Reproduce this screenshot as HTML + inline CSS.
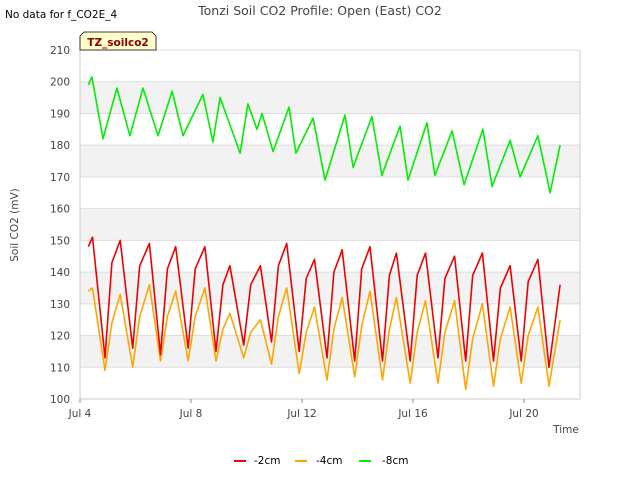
<!DOCTYPE html>
<html><head><meta charset="utf-8"><style>
body{margin:0;background:#fff;font-family:"DejaVu Sans","Liberation Sans",sans-serif;}
</style></head><body>
<svg width="640" height="480" xmlns="http://www.w3.org/2000/svg" font-family="DejaVu Sans, Liberation Sans, sans-serif">
<text x="5" y="18" font-size="10.5" fill="#000">No data for f_CO2E_4</text>
<text x="320" y="15" font-size="12.5" fill="#444" text-anchor="middle">Tonzi Soil CO2 Profile: Open (East) CO2</text>
<g id="plot"></g>
<g>
<path d="M80,50 L80,36 L84,32 L152,32 L156,36 L156,50 Z" fill="#ffffcc" stroke="#000" stroke-width="0.8"/>
<text x="118" y="46" font-size="10.5" font-weight="bold" fill="#8b0000" text-anchor="middle">TZ_soilco2</text>
</g>
<text x="18" y="225" font-size="10.5" fill="#444" text-anchor="middle" transform="rotate(-90 18 225)">Soil CO2 (mV)</text>
<text x="566" y="433" font-size="10.5" fill="#444" text-anchor="middle">Time</text>
<g>
<g><line x1="234" y1="461" x2="246" y2="461" stroke="#e00" stroke-width="2"/><text x="254" y="464" font-size="10.5" fill="#000">-2cm</text></g>
<g><line x1="295" y1="461" x2="307" y2="461" stroke="#ffa500" stroke-width="2"/><text x="316" y="464" font-size="10.5" fill="#000">-4cm</text></g>
<g><line x1="359" y1="461" x2="371" y2="461" stroke="#0e0" stroke-width="2"/><text x="382" y="464" font-size="10.5" fill="#000">-8cm</text></g>
</g>
</svg>
<script>
const yTicks=[100,110,120,130,140,150,160,170,180,190,200,210];
const xTickDays=[0,4,8,12,16];
const xTickLabels=["Jul 4","Jul 8","Jul 12","Jul 16","Jul 20"];
const rtTimes=[0.3,0.45,0.9,1.15,1.45,1.9,2.15,2.5,2.9,3.15,3.45,3.9,4.15,4.5,4.9,5.15,5.4,5.9,6.15,6.5,6.9,7.15,7.45,7.9,8.15,8.45,8.9,9.15,9.45,9.9,10.15,10.45,10.9,11.15,11.4,11.9,12.15,12.45,12.9,13.15,13.5,13.9,14.15,14.5,14.9,15.15,15.5,15.9,16.15,16.5,16.9,17.3];
const red2cm=[148,151,113,143,150,116,142,149,114,141,148,116,141,148,115,136,142,117,136,142,118,142,149,115,138,144,113,140,147,112,141,148,112,139,146,112,139,146,113,138,145,112,139,146,112,135,142,112,137,144,110,136];
const orange4cm=[134,135,109,124,133,110,126,136,112,126,134,112,126,135,112,122,127,113,121,125,111,126,135,108,121,129,106,122,132,107,123,134,106,122,132,105,121,131,105,121,131,103,119,130,104,119,129,105,120,129,104,125];
const gTimes=[0.3,0.43,0.83,1.33,1.8,2.27,2.81,3.32,3.71,4.43,4.79,5.05,5.77,6.05,6.38,6.56,6.96,7.53,7.78,8.4,8.83,9.55,9.84,10.52,10.88,11.53,11.82,12.5,12.79,13.41,13.84,14.52,14.85,15.5,15.86,16.5,16.94,17.3];
const green8cm=[199,201.5,182,198,183,198,183,197,183,196,181,195,177.5,193,185,190,178,192,177.5,188.5,169,189.5,173,189,170.5,186,169,187,170.5,184.5,167.5,185,167,181.5,170,183,165,180];

const L=80,R=580,T=50,B=399;
const xs=d=>L+d*27.75;
const ys=v=>B-(v-100)*(B-T)/110;
const NS="http://www.w3.org/2000/svg";
const g=document.getElementById('plot');
function mk(t,a){const e=document.createElementNS(NS,t);for(const k in a)e.setAttribute(k,a[k]);g.appendChild(e);return e;}
for(let v=110;v<=190;v+=20){
  const r=mk('rect',{x:L,y:ys(v+10),width:R-L,height:ys(v)-ys(v+10),fill:'#f2f2f2'});
  
  
}
yTicks.forEach(v=>{
  const l=mk('line',{x1:L,x2:R,y1:ys(v),y2:ys(v),stroke:'#ddd','stroke-width':1});
  
  
  const t=mk('text',{x:L-10,y:ys(v)+4,'font-size':10.5,fill:'#444','text-anchor':'end'});
  t.textContent=v;
  
  
});
const ax=mk('path',{d:`M${L},${T}V${B}H${R}V${T}`,fill:'none',stroke:'#ccc','stroke-width':1});


xTickDays.forEach((d,i)=>{
  const l=mk('line',{x1:xs(d),x2:xs(d),y1:B,y2:B+4,stroke:'#888'});
  
  
  const t=mk('text',{x:xs(d),y:B+18,'font-size':10.5,fill:'#444','text-anchor':'middle'});
  t.textContent=xTickLabels[i];
  
  
});
function line(times,vals,col,name){
  const d=times.map((t,i)=>(i?'L':'M')+xs(t).toFixed(1)+','+ys(vals[i]).toFixed(1)).join('');
  const p=mk('path',{d:d,fill:'none',stroke:col,'stroke-width':1.6,'stroke-linejoin':'round'});
  
  
}
line(rtTimes,orange4cm,'#ffa500','series-4cm');
line(rtTimes,red2cm,'#e00','series-2cm');
line(gTimes,green8cm,'#0e0','series-8cm');
</script>
</body></html>
